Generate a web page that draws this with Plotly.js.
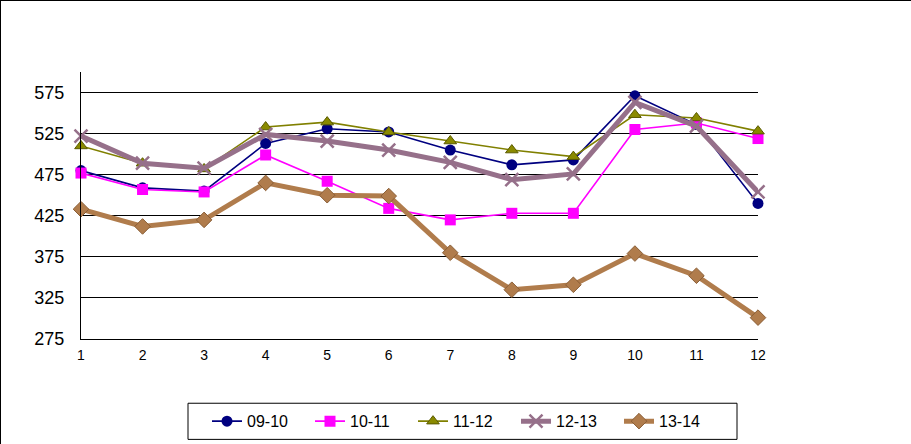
<!DOCTYPE html>
<html>
<head>
<meta charset="utf-8">
<script src="https://cdn.plot.ly/plotly-3.0.1.min.js"></script>
<style>
  html, body { margin: 0; padding: 0; background: #fff; }
  #chart { width: 910px; height: 443px; border-top: 1px solid #000; border-left: 1px solid #000; }
</style>
</head>
<body>
<div id="chart"></div>
<script>
var months = [1, 2, 3, 4, 5, 6, 7, 8, 9, 10, 11, 12];
var s0910 = [480, 459, 455, 513, 531, 527, 505, 487, 493, 571, 536, 440];
var s1011 = [477, 457, 454, 499, 467, 434, 420, 428, 428, 530, 538, 519];
var s1112 = [510, 489, 482, 533, 539, 527, 516, 505, 497, 548, 544, 528];
var s1213 = [522, 489, 483, 524, 516, 505, 490, 469, 476, 563, 534, 454];
var s1314 = [433, 412, 420, 465, 450, 449, 380, 335, 341, 379, 352, 301];
var yTicks = [275, 325, 375, 425, 475, 525, 575];

var data = [
  {
    x: months, y: s0910, name: "09-10", type: "scatter", mode: "lines+markers",
    line: { color: "#000080", width: 1.6 },
    marker: { symbol: "circle", size: 11, color: "#000080" },
    cliponaxis: false
  },
  {
    x: months, y: s1011, name: "10-11", type: "scatter", mode: "lines+markers",
    line: { color: "#ff00ff", width: 1.6 },
    marker: { symbol: "square", size: 11, color: "#ff00ff" },
    cliponaxis: false
  },
  {
    x: months, y: s1112, name: "11-12", type: "scatter", mode: "lines+markers",
    line: { color: "#808000", width: 1.6 },
    marker: { symbol: "triangle-up", size: 11, color: "#8a8a00", line: { color: "#5a5a00", width: 1 } },
    cliponaxis: false
  },
  {
    x: months, y: s1213, name: "12-13", type: "scatter", mode: "lines+markers",
    line: { color: "#96708a", width: 5 },
    marker: { symbol: "x-thin", size: 13, color: "#96708a", line: { color: "#96708a", width: 2.5 } },
    cliponaxis: false
  },
  {
    x: months, y: s1314, name: "13-14", type: "scatter", mode: "lines+markers",
    line: { color: "#b07c4c", width: 5 },
    marker: { symbol: "diamond", size: 12, color: "#b07c4c", line: { color: "#8a5e36", width: 1 } },
    cliponaxis: false
  }
];

var layout = {
  width: 910, height: 443,
  margin: { l: 80, r: 153, t: 71, b: 105, autoexpand: false },
  paper_bgcolor: "#ffffff",
  plot_bgcolor: "#ffffff",
  font: { family: "Arial, 'Liberation Sans', sans-serif", color: "#000" },
  showlegend: true,
  legend: {
    orientation: "h",
    x: (206 - 80) / 677, y: -(403 - 338) / 266, xanchor: "left", yanchor: "top",
    entrywidth: 58, entrywidthmode: "pixels",
    font: { size: 16, color: "#000" },
    bgcolor: "rgba(0,0,0,0)",
    borderwidth: 0
  },
  xaxis: {
    range: [1, 12],
    tickvals: months,
    ticks: "", showgrid: false, zeroline: false,
    showline: true, linecolor: "#000", linewidth: 1.3,
    tickfont: { size: 14 },
    ticklabelstandoff: 3
  },
  yaxis: {
    range: [275, 600],
    tickvals: yTicks,
    ticks: "", zeroline: false,
    showgrid: true, gridcolor: "#000", gridwidth: 1.3,
    showline: true, linecolor: "#000", linewidth: 1.3,
    tickfont: { size: 18 },
    ticklabelstandoff: 12
  },
  shapes: [
    {
      type: "rect", xref: "paper", yref: "paper",
      x0: (187 - 80) / 677, x1: (736 - 80) / 677,
      y0: -(438 - 338) / 266, y1: -(402 - 338) / 266,
      line: { color: "#000", width: 1 }, fillcolor: "rgba(0,0,0,0)"
    }
  ]
};

Plotly.newPlot("chart", data, layout, { displayModeBar: false, responsive: false });
</script>
</body>
</html>
